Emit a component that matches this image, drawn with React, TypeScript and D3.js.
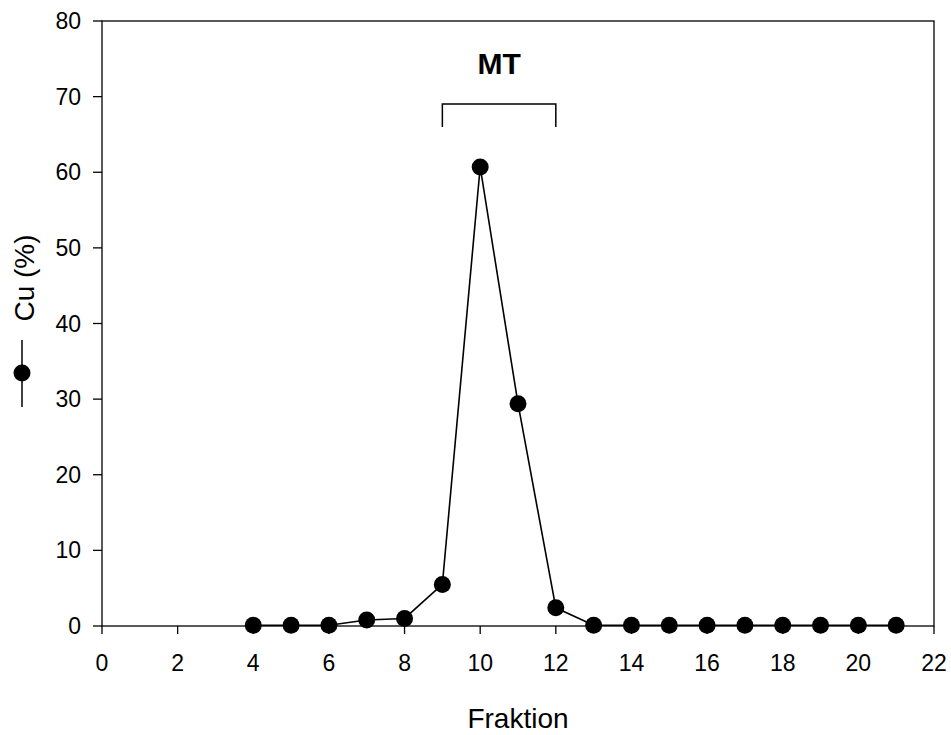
import React from "react";
import * as d3 from "d3";

const fractions = [4, 5, 6, 7, 8, 9, 10, 11, 12, 13, 14, 15, 16, 17, 18, 19, 20, 21];
const cuPercent = [0.1, 0.1, 0.1, 0.8, 1.0, 5.5, 60.7, 29.4, 2.4, 0.1, 0.1, 0.1, 0.1, 0.1, 0.1, 0.1, 0.1, 0.1];
const xTicks = [0, 2, 4, 6, 8, 10, 12, 14, 16, 18, 20, 22];
const yTicks = [0, 10, 20, 30, 40, 50, 60, 70, 80];
const bracketRange = [9, 12];
const bracketLabel = "MT";

export default function App() {
  const W = 951, H = 735;
  const left = 102, right = 934, top = 21, bottom = 626;
  const x = d3.scaleLinear().domain([0, 22]).range([left, right]);
  const y = d3.scaleLinear().domain([0, 80]).range([bottom, top]);
  const pts = fractions.map((f, i) => [f, cuPercent[i]] as [number, number]);
  const line = d3.line<[number, number]>().x(d => x(d[0])).y(d => y(d[1]));
  const font = "Arial, 'Liberation Sans', sans-serif";
  const bx0 = x(bracketRange[0]), bx1 = x(bracketRange[1]);
  return (
    <svg width={W} height={H} style={{ position: "absolute", left: 0, top: 0 }} fontFamily={font}>
      <rect x={left} y={top} width={right - left} height={bottom - top} fill="none" stroke="#000" strokeWidth={1.3} />
      {yTicks.map(t => (
        <g key={"y" + t}>
          <line x1={left - 9} x2={left} y1={y(t)} y2={y(t)} stroke="#000" strokeWidth={1.3} />
          <text x={81} y={y(t)} dy="0.35em" textAnchor="end" fontSize={23}>{t}</text>
        </g>
      ))}
      {xTicks.map(t => (
        <g key={"x" + t}>
          <line x1={x(t)} x2={x(t)} y1={bottom} y2={bottom + 8} stroke="#000" strokeWidth={1.3} />
          <text x={x(t)} y={663} dy="0.35em" textAnchor="middle" fontSize={23}>{t}</text>
        </g>
      ))}
      <text x={518} y={728} textAnchor="middle" fontSize={28}>Fraktion</text>
      <g transform="translate(24, 278) rotate(-90)">
        <text x={0} y={0} dy="0.35em" textAnchor="middle" fontSize={28}>Cu (%)</text>
      </g>
      <line x1={22} x2={22} y1={340} y2={407} stroke="#000" strokeWidth={1.5} />
      <circle cx={22} cy={373} r={8.5} fill="#000" />
      <path d={line(pts) || ""} fill="none" stroke="#000" strokeWidth={1.6} />
      {pts.map((p, i) => (
        <circle key={i} cx={x(p[0])} cy={y(p[1])} r={8.5} fill="#000" />
      ))}
      <path d={`M${bx0},127 V104 H${bx1} V127`} fill="none" stroke="#000" strokeWidth={1.5} />
      <text x={(bx0 + bx1) / 2} y={74} textAnchor="middle" fontSize={30} fontWeight="bold">{bracketLabel}</text>
    </svg>
  );
}
